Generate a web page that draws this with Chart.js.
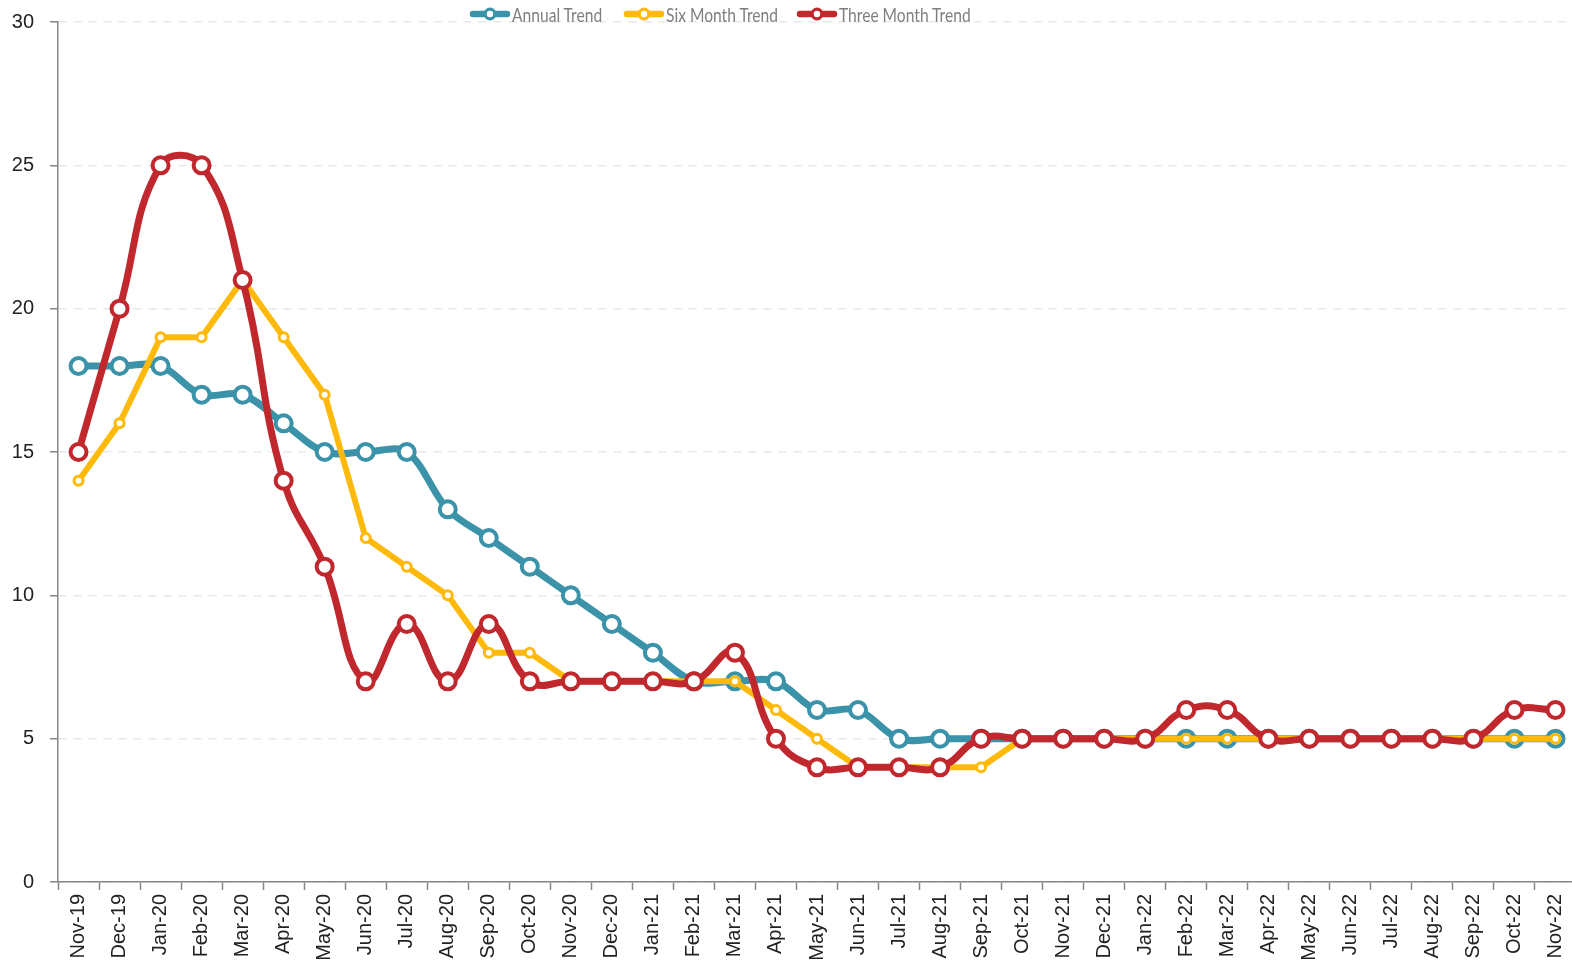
<!DOCTYPE html>
<html>
<head>
<meta charset="utf-8">
<script src="https://cdn.jsdelivr.net/npm/chart.js@4.4.0/dist/chart.umd.min.js"></script>
<style>
  html, body { margin: 0; padding: 0; background: #fff; overflow: hidden; }
  #wrap { position: relative; width: 1588px; height: 974px; }
  #chart { display: block; }
  #legend { position: absolute; left: 0; top: 0; width: 1572px; height: 26px; font-family: "Lato", sans-serif; font-size: 20px; color: #7f7f7f; }
  .lg-item { position: absolute; top: 5px; height: 18px; display: flex; align-items: center; white-space: nowrap; }
  .lg-item svg { margin-right: 1px; flex: none; }
  .lg-item span { display: inline-block; transform: scaleX(0.78); transform-origin: left center; }
</style>
</head>
<body>
<div id="wrap">
  <canvas id="chart" width="1588" height="974"></canvas>
  <div id="legend"></div>
</div>
<script>
// Data
const months = ['Nov-19','Dec-19','Jan-20','Feb-20','Mar-20','Apr-20','May-20','Jun-20','Jul-20','Aug-20','Sep-20','Oct-20',
  'Nov-20','Dec-20','Jan-21','Feb-21','Mar-21','Apr-21','May-21','Jun-21','Jul-21','Aug-21','Sep-21','Oct-21',
  'Nov-21','Dec-21','Jan-22','Feb-22','Mar-22','Apr-22','May-22','Jun-22','Jul-22','Aug-22','Sep-22','Oct-22','Nov-22'];
const annualTrend = [18,18,18,17,17,16,15,15,15,13,12,11, 10,9,8,7,7,7,6,6,5,5,5,5, 5,5,5,5,5,5,5,5,5,5,5,5,5];
const sixMonthTrend = [14,16,19,19,21,19,17,12,11,10,8,8, 7,7,7,7,7,6,5,4,4,4,4,5, 5,5,5,5,5,5,5,5,5,5,5,5,5];
const threeMonthTrend = [15,20,25,25,21,14,11,7,9,7,9,7, 7,7,7,7,8,5,4,4,4,4,5,5, 5,5,5,6,6,5,5,5,5,5,5,6,6];
const yTicks = [0,5,10,15,20,25,30];

const seriesNames = ['Annual Trend','Six Month Trend','Three Month Trend'];
const seriesColors = ['#3a93a9','#ffb909','#c1282e'];

const TEAL = seriesColors[0], AMBER = seriesColors[1], RED = seriesColors[2];

// html legend (line + circle marker like the original)
const legendPos = [469, 623, 796];
const legendEl = document.getElementById('legend');
seriesNames.forEach((name, i) => {
  const item = document.createElement('div');
  item.className = 'lg-item';
  item.style.left = legendPos[i] + 'px';
  const c = seriesColors[i];
  item.innerHTML = '<svg width="42" height="16" viewBox="0 0 42 16">' +
    '<line x1="4" y1="8" x2="38" y2="8" stroke="' + c + '" stroke-width="6.5" stroke-linecap="round"/>' +
    '<circle cx="21" cy="8" r="4.8" fill="#fff" stroke="' + c + '" stroke-width="3.2"/></svg>' +
    '<span>' + name + '</span>';
  legendEl.appendChild(item);
});

const axisFont = { family: '"Liberation Sans", Arial, sans-serif', size: 20 };

new Chart(document.getElementById('chart'), {
  type: 'line',
  data: {
    labels: months,
    datasets: [
      { label: seriesNames[0], data: annualTrend, borderColor: TEAL, backgroundColor: '#fff',
        borderWidth: 7, pointRadius: 8, pointBorderWidth: 4, pointBackgroundColor: '#fff', pointBorderColor: TEAL,
        tension: 0.35, order: 3 },
      { label: seriesNames[1], data: sixMonthTrend, borderColor: AMBER, backgroundColor: '#fff',
        borderWidth: 6, pointRadius: 4.5, pointBorderWidth: 3, pointBackgroundColor: '#fff', pointBorderColor: AMBER,
        tension: 0, order: 2 },
      { label: seriesNames[2], data: threeMonthTrend, borderColor: RED, backgroundColor: '#fff',
        borderWidth: 7, pointRadius: 8, pointBorderWidth: 4, pointBackgroundColor: '#fff', pointBorderColor: RED,
        tension: 0.45, order: 1 }
    ]
  },
  options: {
    responsive: false,
    maintainAspectRatio: false,
    animation: false,
    layout: { padding: { top: 22, left: 0, right: 0, bottom: 0 } },
    plugins: { legend: { display: false }, tooltip: { enabled: false } },
    scales: {
      x: {
        offset: true,
        grid: { display: true, drawOnChartArea: false, offset: true, tickLength: 8, tickColor: '#868686', tickWidth: 1.5 },
        border: { color: '#868686', width: 1.5 },
        ticks: { font: axisFont, color: '#222', maxRotation: 90, minRotation: 90, padding: 4, autoSkip: false },
        afterFit: s => { s.height = 92; s.paddingLeft = 0; s.paddingRight = 0; }
      },
      y: {
        min: 0, max: 30,
        afterBuildTicks: s => { s.ticks = yTicks.map(v => ({ value: v })); },
        grid: { color: '#e8e8e8', lineWidth: 1.5, tickBorderDash: [], tickColor: '#868686', tickWidth: 1.5, tickLength: 8 },
        border: { color: '#868686', width: 1.5, dash: [8, 7] },
        ticks: { font: axisFont, color: '#222', padding: 16 },
        afterFit: s => { s.width = 58; s.paddingTop = 0; s.paddingBottom = 0; }
      }
    }
  }
});
</script>
</body>
</html>
